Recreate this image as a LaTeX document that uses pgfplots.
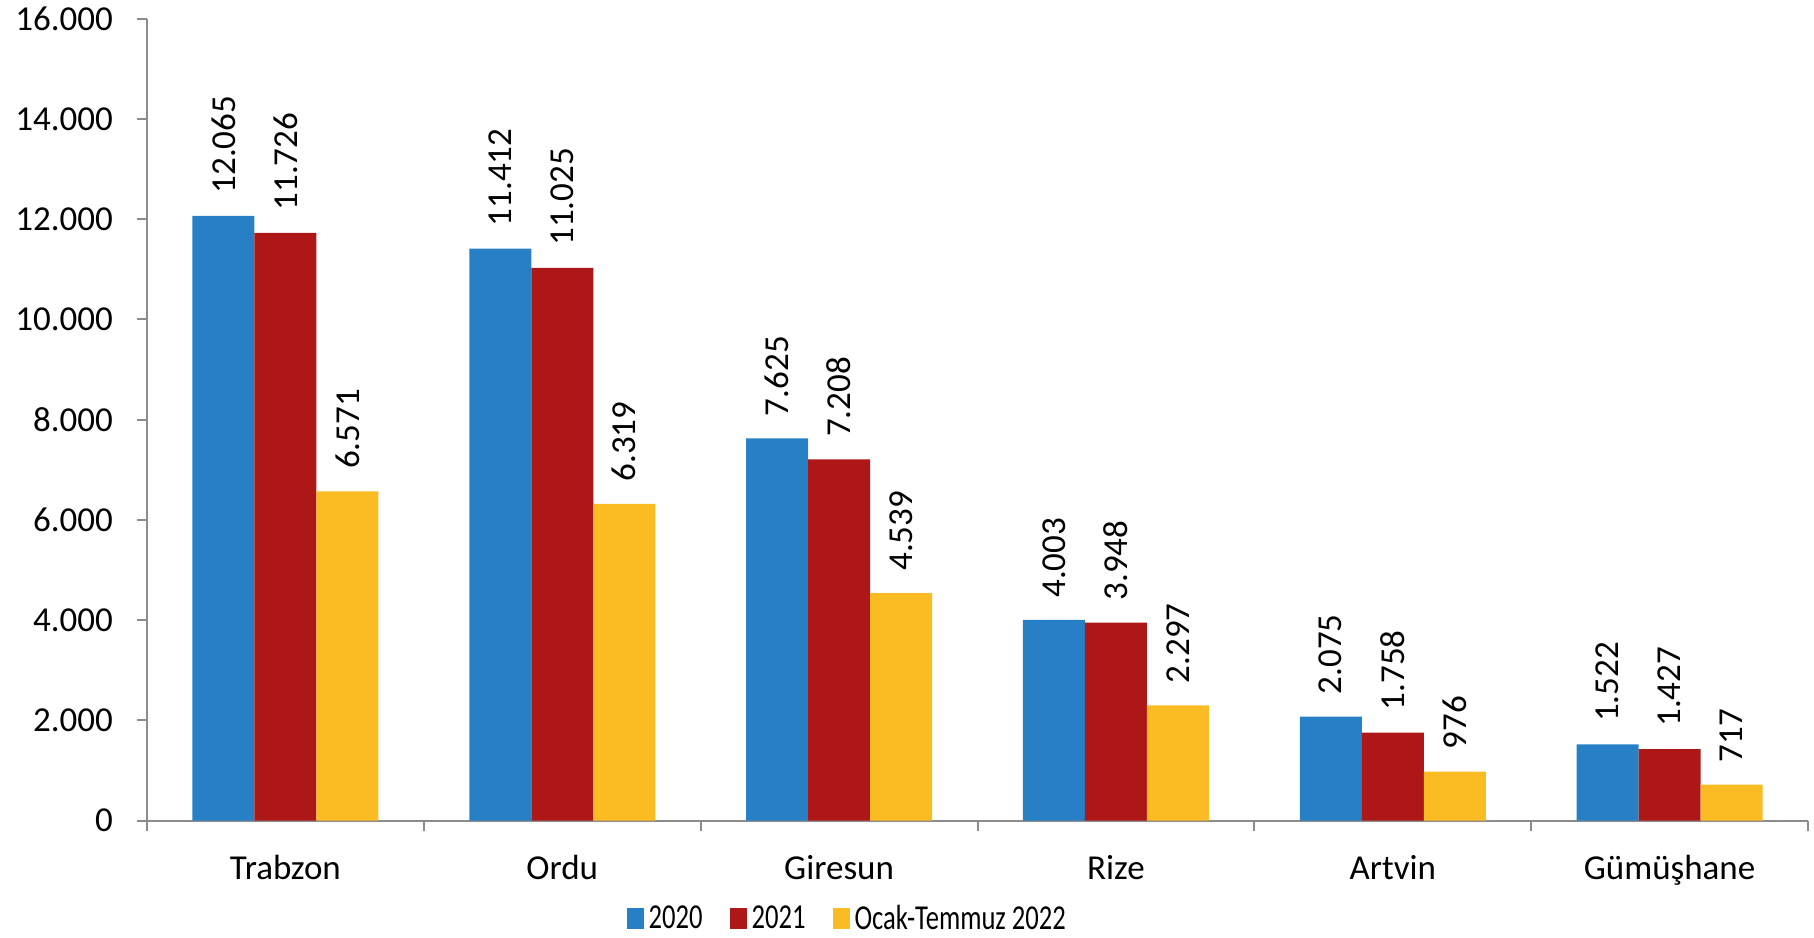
\documentclass[border=0pt]{standalone}
\usepackage{pgfplots}
\pgfplotsset{compat=1.18}
\usepackage{graphicx}
\usepackage{fontspec}
\setmainfont{Carlito}
\definecolor{cblue}{HTML}{2780C5}
\definecolor{cred}{HTML}{AE1717}
\definecolor{cyellow}{HTML}{FBBB22}
\definecolor{axgray}{HTML}{8C8C8C}
\newcommand{\lf}{\fontsize{17.5pt}{20pt}\selectfont}
\newcommand{\legtxt}[1]{\scalebox{0.76}[1]{#1}}
\begin{document}
\begin{tikzpicture}
\begin{axis}[
  at={(0,0)}, anchor=south west,
  scale only axis, width=830.5pt, height=401pt,
  ybar=0pt, bar width=31pt,
  xmin=-0.5, xmax=5.5, ymin=0, ymax=16000,
  xtick={-0.5,0.5,...,5.5},
  x tick label as interval,
  xticklabels={Trabzon,Ordu,Giresun,Rize,Artvin,Gümüşhane},
  ytick={0,2000,...,16000},
  scaled y ticks=false,
  axis x line*=bottom, axis y line*=left,
  axis line style={draw=axgray, line width=1pt},
  tick style={draw=axgray, line width=1pt},
  tick align=outside, major tick length=5pt,
  /pgf/number format/.cd, 1000 sep={.}, assume math mode=true, fixed,
  /pgfplots/.cd,
  tick label style={font=\lf},
  yticklabel style={xshift=-8.5pt},
  xticklabel style={yshift=-9pt},
  nodes near coords,
  every node near coord/.append style={font=\lf, rotate=90, anchor=west, inner xsep=11pt, inner ysep=0pt, black},
  legend columns=3,
  legend style={draw=none, fill=none, font=\lf, inner sep=0pt, at={(0.421,-0.122)}, anchor=center,
    nodes={inner sep=0pt},
    /tikz/every odd column/.append style={column sep=2.5pt},
    /tikz/every even column/.append style={column sep=13.5pt}},
  legend image code/.code={\fill[#1] (0pt,-5.25pt) rectangle (8.5pt,5.25pt);},
]
\addplot[fill=cblue, draw=none] coordinates {(0,12065) (1,11412) (2,7625) (3,4003) (4,2075) (5,1522)};
\addplot[fill=cred, draw=none] coordinates {(0,11726) (1,11025) (2,7208) (3,3948) (4,1758) (5,1427)};
\addplot[fill=cyellow, draw=none] coordinates {(0,6571) (1,6319) (2,4539) (3,2297) (4,976) (5,717)};
\legend{\legtxt{2020},\legtxt{2021},\legtxt{Ocak-Temmuz 2022}}
\end{axis}
\path (-73.5pt,-58.5pt) rectangle (833.5pt,410pt);
\end{tikzpicture}
\end{document}
